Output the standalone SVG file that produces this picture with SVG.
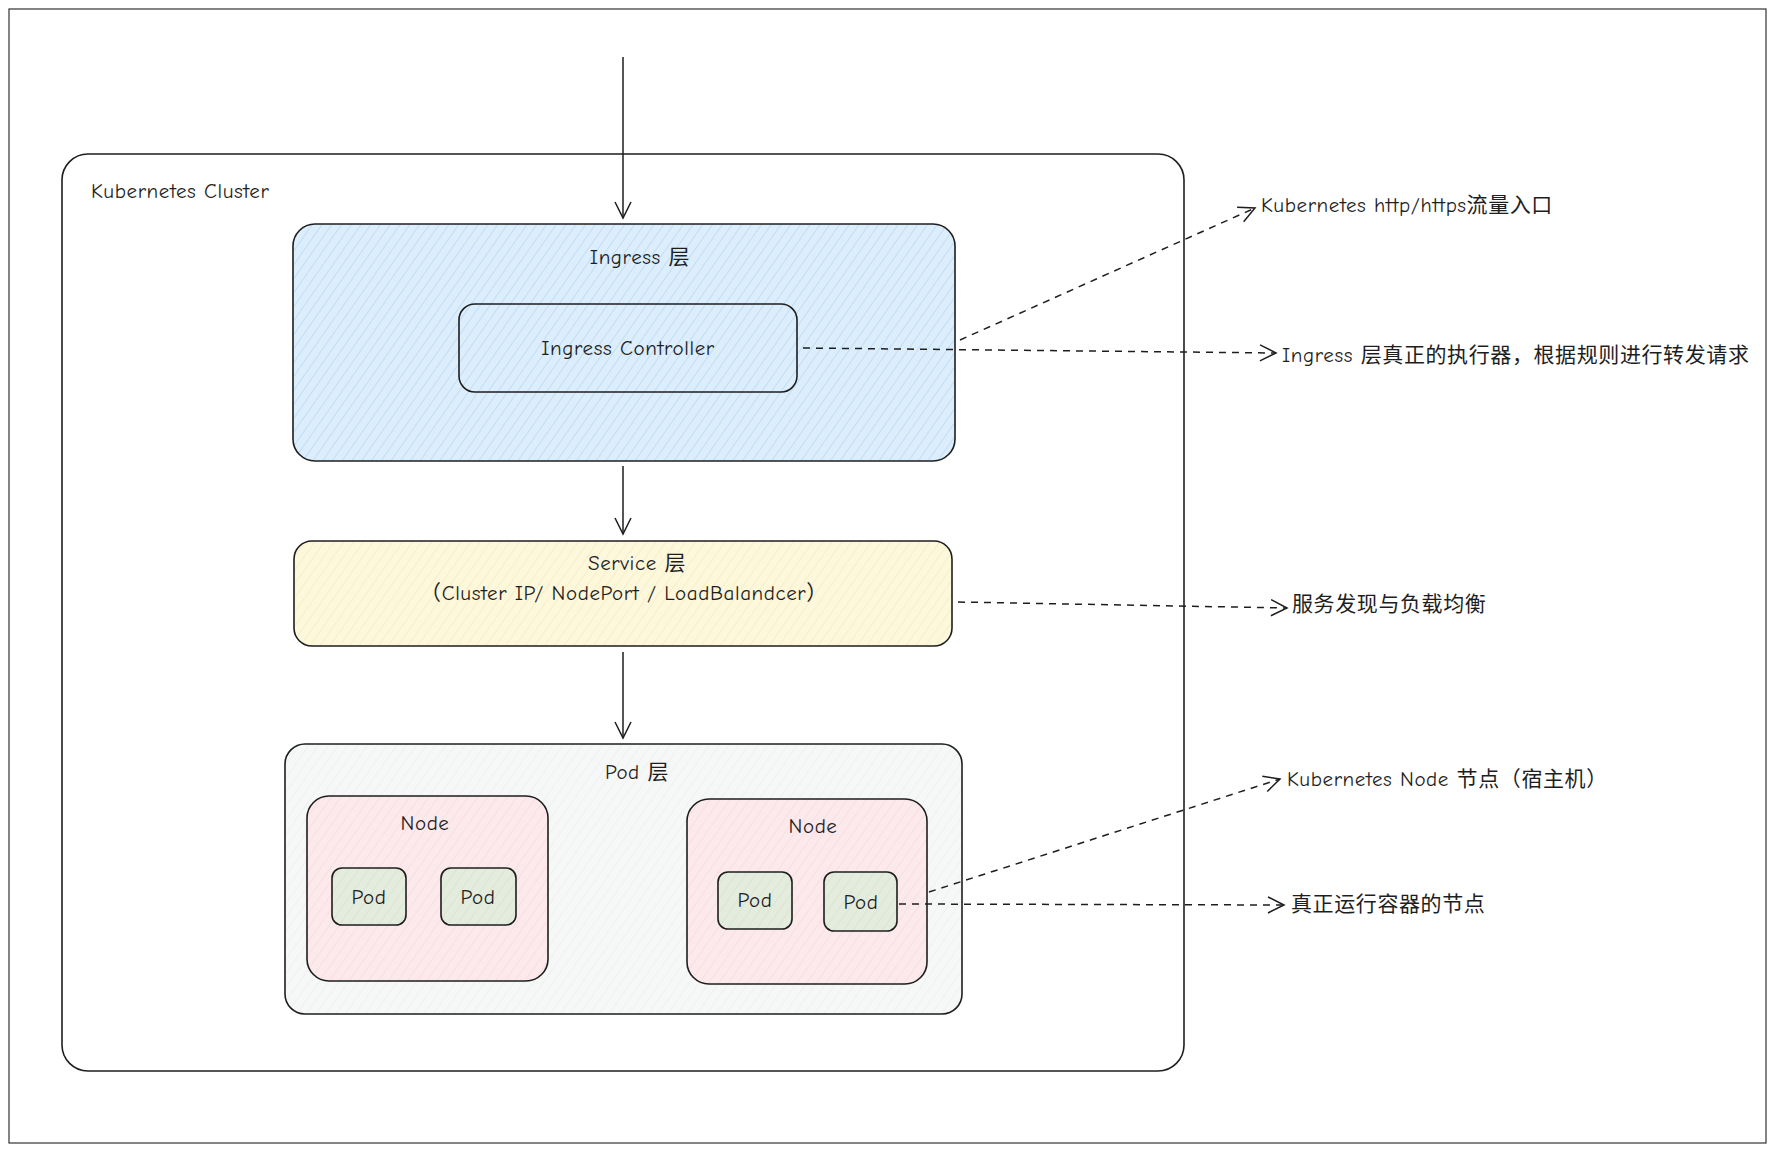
<svg xmlns="http://www.w3.org/2000/svg" width="1781" height="1157" viewBox="0 0 1781 1157">
<defs>
<pattern id="hb" width="8" height="8" patternUnits="userSpaceOnUse" patternTransform="rotate(35)"><rect width="8" height="8" fill="#dcedfc"/><line x1="0" y1="0" x2="0" y2="8" stroke="#a5d0f5" stroke-width="1"/></pattern>
<pattern id="hy" width="8" height="8" patternUnits="userSpaceOnUse" patternTransform="rotate(35)"><rect width="8" height="8" fill="#fdf7dc"/><line x1="0" y1="0" x2="0" y2="8" stroke="#f3e7b0" stroke-width="1"/></pattern>
<pattern id="hg" width="8" height="8" patternUnits="userSpaceOnUse" patternTransform="rotate(35)"><rect width="8" height="8" fill="#f6f7f7"/><line x1="0" y1="0" x2="0" y2="8" stroke="#e8ebea" stroke-width="1"/></pattern>
<pattern id="hp" width="8" height="8" patternUnits="userSpaceOnUse" patternTransform="rotate(35)"><rect width="8" height="8" fill="#fce9ec"/><line x1="0" y1="0" x2="0" y2="8" stroke="#f5d3d8" stroke-width="1"/></pattern>
<pattern id="hgr" width="8" height="8" patternUnits="userSpaceOnUse" patternTransform="rotate(35)"><rect width="8" height="8" fill="#e4ecdd"/><line x1="0" y1="0" x2="0" y2="8" stroke="#d3dfc9" stroke-width="1"/></pattern>
<marker id="ar" viewBox="0 0 20 20" refX="18" refY="10" markerWidth="20" markerHeight="20" markerUnits="userSpaceOnUse" orient="auto"><path d="M2,2 L18,10 L2,18" fill="none" stroke="#1e1e1e" stroke-width="1.5"/></marker>
</defs>
<style>
.b{stroke:#1e1e1e;stroke-width:1.6}
.t{font-family:"Comic Neue","Liberation Sans","Noto Sans CJK SC",sans-serif;font-size:21px;fill:#1e1e1e;letter-spacing:0.6px}
.m{text-anchor:middle}
.c{stroke:#1e1e1e;stroke-width:1.5;fill:none}
.d{stroke-dasharray:7 6}
</style>
<rect x="0" y="0" width="1781" height="1157" fill="#fff"/>
<rect x="9" y="9" width="1757" height="1134" fill="none" stroke="#333" stroke-width="1.2"/>
<g id="cluster"><rect x="62" y="154" width="1122" height="917" rx="26" fill="#fff" class="b"/><text class="t" x="91" y="198">Kubernetes Cluster</text></g>
<g id="ingress"><rect x="293" y="224" width="662" height="237" rx="22" fill="url(#hb)" class="b"/><text class="t m" x="640" y="264">Ingress 层</text></g>
<g id="controller"><rect x="459" y="304" width="338" height="88" rx="16" fill="url(#hb)" class="b"/><text class="t m" x="628" y="355">Ingress Controller</text></g>
<g id="service"><rect x="294" y="541" width="658" height="105" rx="18" fill="url(#hy)" class="b"/><text class="t m" x="637" y="570">Service 层</text><text class="t m" x="624" y="600">（Cluster IP/ NodePort / LoadBalandcer）</text></g>
<g id="podlayer"><rect x="285" y="744" width="677" height="270" rx="20" fill="url(#hg)" class="b"/><text class="t m" x="637" y="779">Pod 层</text></g>
<g id="node1"><rect x="307" y="796" width="241" height="185" rx="22" fill="url(#hp)" class="b"/><text class="t m" x="425" y="830">Node</text></g>
<g id="pod1"><rect x="332" y="868" width="74" height="57" rx="10" fill="url(#hgr)" class="b"/><text class="t m" x="369" y="904">Pod</text></g>
<g id="pod2"><rect x="441" y="868" width="75" height="57" rx="10" fill="url(#hgr)" class="b"/><text class="t m" x="478" y="904">Pod</text></g>
<g id="node2"><rect x="687" y="799" width="240" height="185" rx="22" fill="url(#hp)" class="b"/><text class="t m" x="813" y="833">Node</text></g>
<g id="pod3"><rect x="718" y="872" width="74" height="57" rx="10" fill="url(#hgr)" class="b"/><text class="t m" x="755" y="907">Pod</text></g>
<g id="pod4"><rect x="824" y="872" width="73" height="59" rx="10" fill="url(#hgr)" class="b"/><text class="t m" x="861" y="909">Pod</text></g>
<g id="labels">
<text class="t" x="1261" y="212">Kubernetes http/https流量入口</text>
<text class="t" x="1282" y="362">Ingress 层真正的执行器，根据规则进行转发请求</text>
<text class="t" x="1292" y="611">服务发现与负载均衡</text>
<text class="t" x="1287" y="786">Kubernetes Node 节点（宿主机）</text>
<text class="t" x="1291" y="911">真正运行容器的节点</text>
</g>
<g id="connectors">
<line class="c" x1="623" y1="57" x2="623" y2="218" marker-end="url(#ar)"/>
<line class="c" x1="623" y1="466" x2="623" y2="534" marker-end="url(#ar)"/>
<line class="c" x1="623" y1="652" x2="623" y2="738" marker-end="url(#ar)"/>
<line class="c d" x1="960" y1="340" x2="1255" y2="208" marker-end="url(#ar)"/>
<line class="c d" x1="803" y1="348" x2="1276" y2="353" marker-end="url(#ar)"/>
<line class="c d" x1="958" y1="602" x2="1287" y2="608" marker-end="url(#ar)"/>
<line class="c d" x1="929" y1="892" x2="1280" y2="779" marker-end="url(#ar)"/>
<line class="c d" x1="899" y1="904" x2="1284" y2="905" marker-end="url(#ar)"/>
</g>
</svg>
